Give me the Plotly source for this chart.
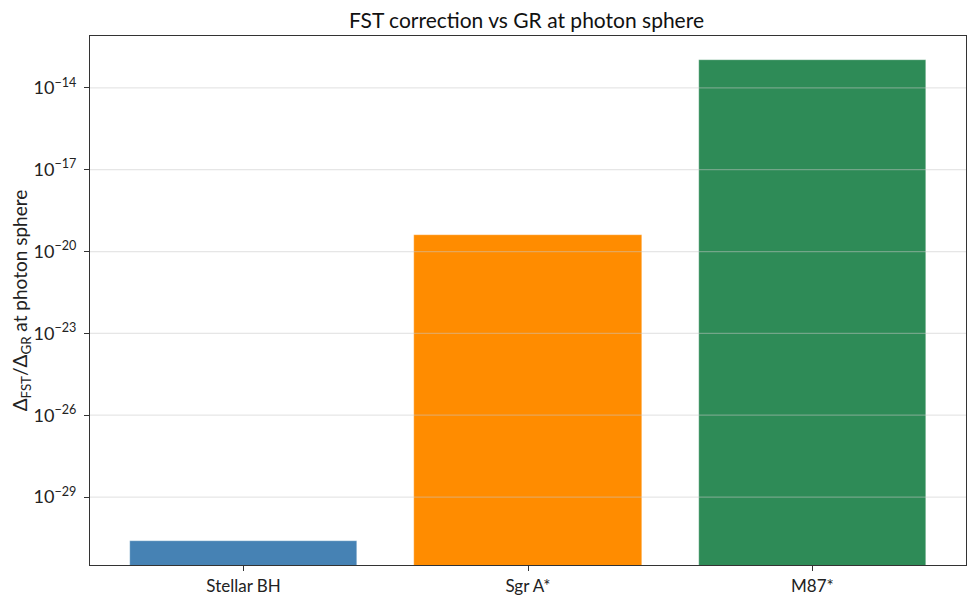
import plotly.graph_objects as go

categories = ["Stellar BH", "Sgr A*", "M87*"]
ratios = [2.45e-31, 4.2e-20, 1.05e-13]
colors = ["#4682B4", "#FF8C00", "#2E8B57"]
tick_exps = [-29, -26, -23, -20, -17, -14]

FONT = "Lato"
W, H = 967, 596  # page body has an 8px offset in the browser

fig = go.Figure()
fig.add_trace(go.Bar(
    x=categories, y=ratios, width=0.8,
    marker=dict(color=colors, line=dict(color="rgba(255,255,255,0.6)", width=0.5)),
    base=1e-40,
))

# grid lines drawn above the bars, as in the reference
for e in tick_exps:
    fig.add_shape(type="line", xref="paper", x0=0, x1=1, yref="y",
                  y0=10.0 ** e, y1=10.0 ** e, layer="above",
                  line=dict(color="rgba(200,200,200,0.45)", width=1.2))

fig.update_layout(
    width=W, height=H,
    margin=dict(l=82, r=9, t=28, b=39, autoexpand=False),
    paper_bgcolor="white", plot_bgcolor="white",
    font=dict(family=FONT, size=17, color="#222"),
    title=dict(text="FST correction vs GR at photon sphere", x=(526.5 - 8) / W, xanchor="center",
               xref="container", y=1 - 13 / H, yanchor="middle", yref="container", automargin=False,
               font=dict(size=21, family=FONT, color="#111")),
    showlegend=False,
    bargap=0,
)
fig.update_xaxes(
    range=[-0.54, 2.54], showline=True, linecolor="#333", linewidth=1.2, mirror=True,
    ticks="outside", ticklen=5, tickcolor="#333", showgrid=False, automargin=False,
    tickfont=dict(size=17, family=FONT, color="#222"),
)
fig.update_yaxes(
    type="log", range=[-31.49, -12.10], automargin=False,
    tickvals=[10.0 ** e for e in tick_exps],
    ticktext=[f"10<sup>\u2212{-e}</sup>" for e in tick_exps],
    showline=True, linecolor="#333", linewidth=1.2, mirror=True,
    ticks="outside", ticklen=5, tickcolor="#333", ticklabelstandoff=4,
    showgrid=False,
    tickfont=dict(size=18, family=FONT, color="#222"),
    title=dict(text="\u0394<sub>FST</sub>/\u0394<sub>GR</sub> at photon sphere",
               font=dict(size=19, family=FONT, color="#222"), standoff=10),
)

fig.write_html("out.html")
